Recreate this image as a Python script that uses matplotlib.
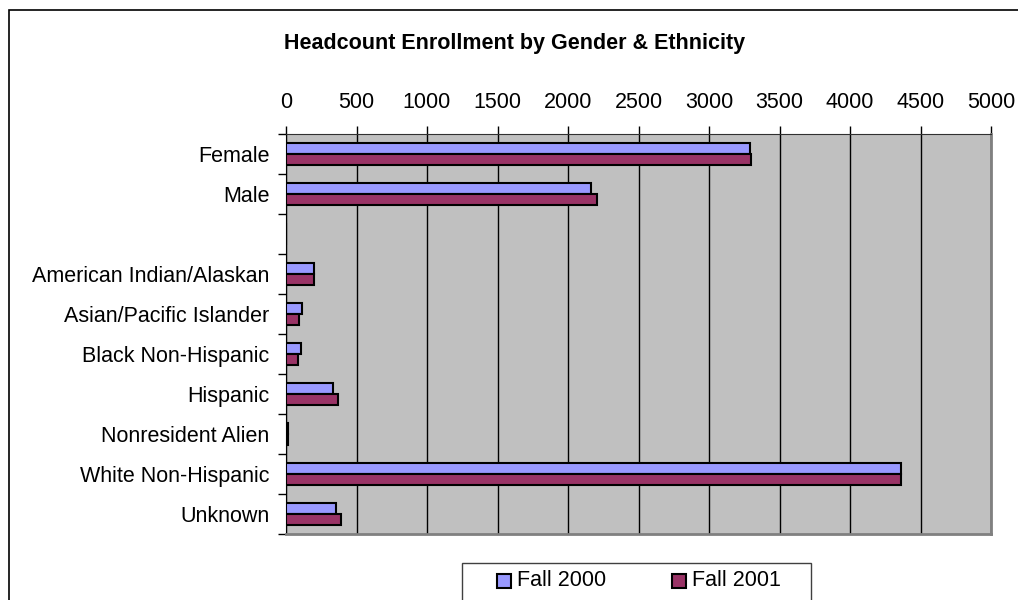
import numpy as np
from matplotlib import pyplot as plt
from matplotlib.patches import Rectangle

plt.rcParams['font.family'] = ['Liberation Sans', 'DejaVu Sans']

# Data
categories = ["Female", "Male", "", "American Indian/Alaskan", "Asian/Pacific Islander",
              "Black Non-Hispanic", "Hispanic", "Nonresident Alien", "White Non-Hispanic", "Unknown"]
fall_2000 = [3290, 2165, 0, 196, 110, 108, 331, 12, 4360, 357]
fall_2001 = [3300, 2205, 0, 200, 92, 85, 371, 12, 4362, 392]
series_names = ["Fall 2000", "Fall 2001"]
series_colors = ['#9999FF', '#993366']
xticks = np.arange(0, 5001, 500)

W, H = 1018, 600
fs = 15.5

fig = plt.figure(figsize=(W / 100, H / 100), dpi=100)
ax = fig.add_axes([286 / W, 1 - 534 / H, 705 / W, 400 / H])

# outer chart frame
fig.patches.append(Rectangle((9 / W, -0.05), 1.2, 1 - 10 / H + 0.05, transform=fig.transFigure,
                             fill=False, edgecolor='black', linewidth=1.2))

y = np.arange(len(categories))
h = 0.28
ax.barh(y - h / 2, fall_2000, height=h, color=series_colors[0], edgecolor='black', linewidth=1.5,
        zorder=3)
ax.barh(y + h / 2, fall_2001, height=h, color=series_colors[1], edgecolor='black', linewidth=1.5,
        zorder=3)

ax.set_facecolor('#C0C0C0')
ax.set_xlim(0, 5000)
ax.set_ylim(len(categories) - 0.5, -0.5)
ax.set_xticks(xticks)
ax.xaxis.tick_top()
ax.tick_params(axis='x', direction='out', length=6, width=1, pad=9, labelsize=fs)
ax.grid(axis='x', color='black', linewidth=1, zorder=1)
ax.set_axisbelow(True)

ax.set_yticks(y)
ax.set_yticklabels(categories, fontsize=fs)
ax.set_yticks(np.arange(-0.5, len(categories)), minor=True)
ax.tick_params(axis='y', which='major', length=0, pad=12)
ax.tick_params(axis='y', which='minor', direction='out', length=6, width=1)

for side in ['right', 'bottom']:
    ax.spines[side].set_color('#808080')
    ax.spines[side].set_linewidth(2)
ax.spines['top'].set_color('#303030')
ax.spines['left'].set_color('black')

fig.text(515 / W, 1 - 44 / H, "Headcount Enrollment by Gender & Ethnicity",
         fontsize=fs, fontweight='bold', ha='center', va='center')

# legend box (runs off the bottom edge like the reference)
fig.patches.append(Rectangle((462 / W, -0.05), 349 / W, 0.05 + 1 - 563 / H,
                             transform=fig.transFigure, facecolor='white',
                             edgecolor='#404040', linewidth=1))
marker_x = [497, 672]
for mx, name, col in zip(marker_x, series_names, series_colors):
    fig.patches.append(Rectangle((mx / W, 1 - 588 / H), 14 / W, 14 / H,
                                 transform=fig.transFigure, facecolor=col,
                                 edgecolor='black', linewidth=1.5))
    fig.text((mx + 20) / W, 1 - 581 / H, name, fontsize=fs, ha='left', va='center')

fig.savefig('out.png', dpi=100)
